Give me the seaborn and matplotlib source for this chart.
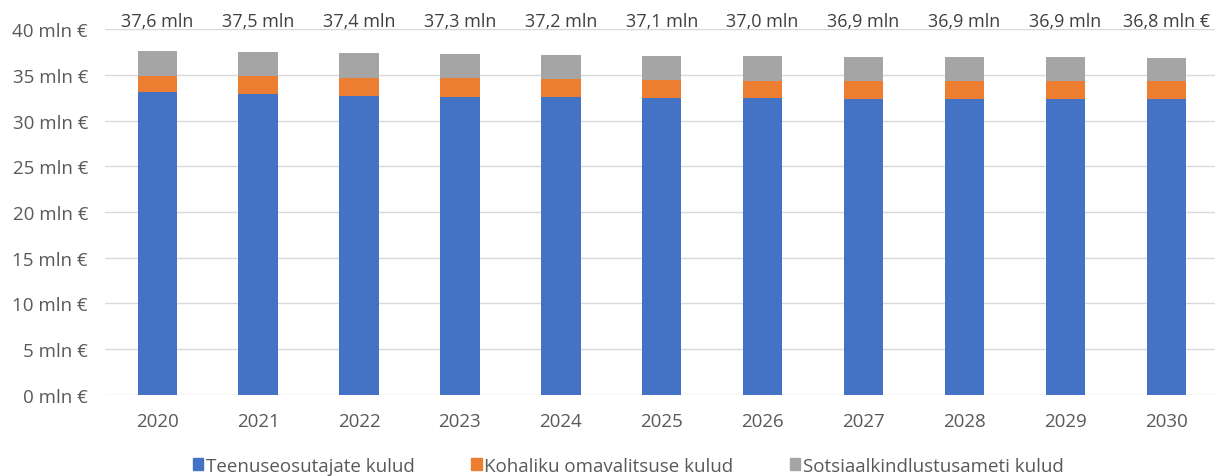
import pandas as pd
import matplotlib.pyplot as plt
import seaborn as sns

years = ["2020", "2021", "2022", "2023", "2024", "2025", "2026", "2027", "2028", "2029", "2030"]
teenuse = [33.1, 32.85, 32.7, 32.6, 32.55, 32.5, 32.45, 32.4, 32.4, 32.4, 32.4]
kov = [1.8, 2.05, 2.0, 2.0, 1.95, 1.9, 1.9, 1.9, 1.9, 1.9, 1.9]
totals = [37.6, 37.5, 37.4, 37.3, 37.2, 37.1, 37.0, 36.9, 36.9, 36.9, 36.8]
total_labels = ["37,6 mln", "37,5 mln", "37,4 mln", "37,3 mln", "37,2 mln", "37,1 mln",
                "37,0 mln", "36,9 mln", "36,9 mln", "36,9 mln", "36,8 mln €"]
series_names = ["Teenuseosutajate kulud", "Kohaliku omavalitsuse kulud", "Sotsiaalkindlustusameti kulud"]
colors = ["#4472C4", "#ED7D31", "#A5A5A5"]

df = pd.DataFrame({"year": years, "teenuse": teenuse, "kov": kov, "total": totals})
df["kov_top"] = df["teenuse"] + df["kov"]

sns.set_theme(style="white")
plt.rcParams["font.family"] = ["Open Sans", "DejaVu Sans"]

fig = plt.figure(figsize=(12.32, 4.77), dpi=100)
ax = fig.add_axes([0.085, 0.170, 0.901, 0.767])

# stacked bars drawn as overlapping cumulative layers
for col, color in zip(["total", "kov_top", "teenuse"], colors[::-1]):
    sns.barplot(data=df, x="year", y=col, color=color, width=0.39,
                saturation=1, linewidth=0, ax=ax, zorder=3)

for i, lab in enumerate(total_labels):
    ax.text(i, 40.9, lab, ha="center", va="center", fontsize=13, color="#404040")

ax.set_ylim(0, 40)
ax.set_xlim(-0.52, 10.48)
ax.set_yticks(range(0, 41, 5))
ax.set_yticklabels([f"{v} mln €" for v in range(0, 41, 5)])
ax.yaxis.grid(True, color="#D9D9D9", linewidth=1, zorder=0)
ax.tick_params(axis="both", labelsize=13.5, colors="#595959", length=0)
ax.tick_params(axis="y", pad=12)
ax.tick_params(axis="x", pad=12)
ax.set_xlabel("")
ax.set_ylabel("")
for s in ax.spines.values():
    s.set_visible(False)

handles = [plt.Rectangle((0, 0), 1, 1, color=c) for c in colors]
fig.legend(handles, series_names, loc="center", bbox_to_anchor=(0.51, 0.022), ncol=3,
           frameon=False, fontsize=13.5, handlelength=0.55, handleheight=0.55,
           handletextpad=0.15, columnspacing=3.0, labelcolor="#595959")

fig.savefig("out.png", dpi=100)
